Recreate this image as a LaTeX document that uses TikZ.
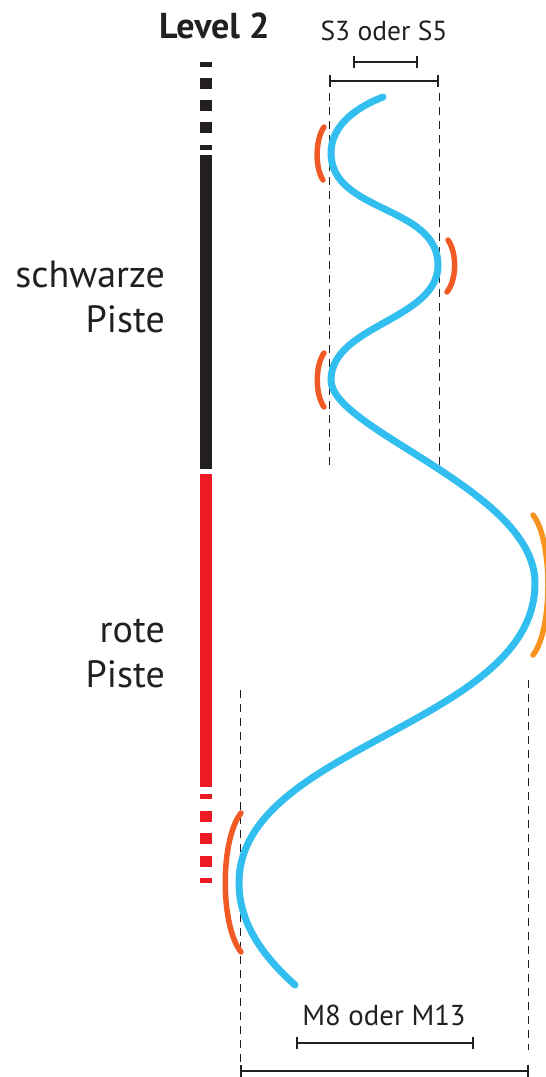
\documentclass[tikz,border=0pt]{standalone}
\usepackage{fontspec}
\setmainfont{PT Sans}
\usetikzlibrary{arrows.meta}
\definecolor{pblack}{HTML}{231F20}
\definecolor{pred}{HTML}{ED1C24}
\definecolor{pblue}{HTML}{33BEF0}
\definecolor{porange}{HTML}{F15A24}
\definecolor{plight}{HTML}{F7931E}
\tikzset{
  barseg/.style={fill=#1, draw=none},
  track/.style={draw=pblue, line width=7pt, line cap=round},
  edgearc/.style={draw=#1, line width=5.5pt, line cap=round},
  guide/.style={draw=pblack, line width=0.9pt, dash pattern=on 8pt off 6pt},
  dimline/.style={draw=pblack, line width=1.8pt, {Bar[width=12pt,line width=1.8pt]}-{Bar[width=12pt,line width=1.8pt]}},
  lbl/.style={inner sep=0pt, text=pblack}
}
\begin{document}
\begin{tikzpicture}[x=1pt,y=-1pt]
\useasboundingbox (0,0) rectangle (546,1077);
% labels
\node[lbl, anchor=base west, font=\bfseries\fontsize{36}{36}\selectfont] (title) at (159,38) {Level 2};
\node[lbl, anchor=base, font=\fontsize{27.5}{27.5}\selectfont] (sfirst) at (384,40) {S3 oder S5};
\node[lbl, anchor=base, font=\fontsize{28.8}{28.8}\selectfont] (mfirst) at (384,1025) {M8 oder M13};
\node[lbl, anchor=base east, font=\fontsize{38}{38}\selectfont] (schw) at (165,287) {schwarze};
\node[lbl, anchor=base east, font=\fontsize{38}{38}\selectfont] (pist1) at (165,332) {Piste};
\node[lbl, anchor=base east, font=\fontsize{38}{38}\selectfont] (rote) at (165,642) {rote};
\node[lbl, anchor=base east, font=\fontsize{38}{38}\selectfont] (pist2) at (165,687) {Piste};
% black bar
\fill[barseg=pblack] (200,61.7) rectangle (212,66.7);
\fill[barseg=pblack] (200,78) rectangle (212,89);
\fill[barseg=pblack] (200,100) rectangle (212,111);
\fill[barseg=pblack] (200,122) rectangle (212,133);
\fill[barseg=pblack] (200,145) rectangle (212,150);
\fill[barseg=pblack] (200,155) rectangle (212,469);
% red bar
\fill[barseg=pred] (200,474) rectangle (212,787);
\fill[barseg=pred] (200,794) rectangle (212,799);
\fill[barseg=pred] (200,811) rectangle (212,822);
\fill[barseg=pred] (200,833) rectangle (212,844);
\fill[barseg=pred] (200,856) rectangle (212,867);
\fill[barseg=pred] (200,878) rectangle (212,883);
% guides
\coordinate (g1a) at (329,93);  \coordinate (g1b) at (329,465);
\coordinate (g2a) at (439,93);  \coordinate (g2b) at (439,465);
\coordinate (g3a) at (240,690); \coordinate (g3b) at (240,1062);
\coordinate (g4a) at (528,680); \coordinate (g4b) at (528,1050);
\draw[guide] (g1a) -- (g1b);
\draw[guide] (g2a) -- (g2b);
\draw[guide] (g3a) -- (g3b);
\draw[guide] (g4a) -- (g4b);
% dimension brackets
\coordinate (d1a) at (353,62);  \coordinate (d1b) at (418,62);
\coordinate (d2a) at (329,81);  \coordinate (d2b) at (439,81);
\coordinate (d3a) at (296,1043); \coordinate (d3b) at (474,1043);
\coordinate (d4a) at (240,1071); \coordinate (d4b) at (529,1071);
\draw[dimline] (d1a) -- (d1b);
\draw[dimline] (d2a) -- (d2b);
\draw[dimline] (d3a) -- (d3b);
\draw[dimline] (d4a) -- (d4b);
% edge arcs
\draw[edgearc=porange] (324,127) .. controls (315,140) and (315,168) .. (323,180);
\draw[edgearc=porange] (448,240) .. controls (457,253) and (457,279) .. (447,292);
\draw[edgearc=porange] (324,353) .. controls (315,366) and (315,394) .. (324,407);
\draw[edgearc=plight] (533,515) .. controls (553,540) and (553,630) .. (533,655);
\draw[edgearc=porange] (241,813) .. controls (220,840) and (220,925) .. (241,952);
% track
\coordinate (t0) at (383,97);
\coordinate (t1) at (331,153);
\coordinate (t2) at (438,265);
\coordinate (t3) at (331,380);
\coordinate (t4) at (535,583);
\coordinate (t5) at (239,883);
\coordinate (t6) at (295,985);
\draw[track] (t0) .. controls (357,107) and (331,125) .. (t1)
  .. controls (331,213) and (438,205) .. (t2)
  .. controls (438,320) and (331,325) .. (t3)
  .. controls (331,430) and (535,490) .. (t4)
  .. controls (535,725) and (239,745) .. (t5)
  .. controls (239,925) and (265,958) .. (t6);
\end{tikzpicture}
\end{document}
